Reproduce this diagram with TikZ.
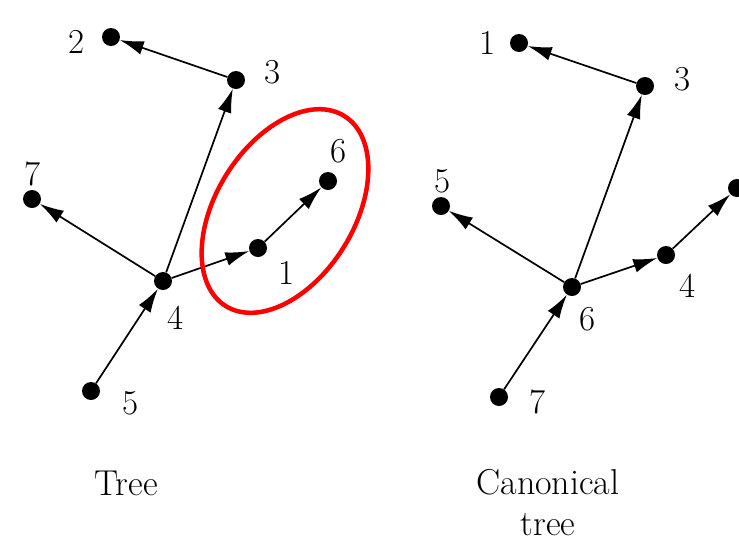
\documentclass[tikz,border=0pt]{standalone}
\usepackage{tikz}
\usetikzlibrary{arrows.meta, positioning}

\begin{document}
\begin{tikzpicture}[
  x=1pt, y=-1pt,
  dot/.style={circle, fill=black, inner sep=0pt, minimum size=18pt},
  num/.style={inner sep=0pt, font=\fontsize{35}{42}\selectfont},
  caption/.style={inner sep=0pt, align=center, font=\fontsize{36}{41}\selectfont},
  arrow/.style={-{Latex[length=24pt, width=14pt]}, line width=1.7pt},
  ring/.style={draw=red, line width=4.5pt}
]
\useasboundingbox (0,0) rectangle (739,539);

\node (t2) [dot] at (111,37) {};
\node (t3) [dot] at (236,80) {};
\node (t7) [dot] at (32,199) {};
\node (t4) [dot] at (163,281) {};
\node (t1) [dot] at (258,248) {};
\node (t6) [dot] at (328,181) {};
\node (t5) [dot] at (91,391) {};

\node (t2lab) [num] at (77,42) {2};
\node (t3lab) [num] at (273,72) {3};
\node (t7lab) [num] at (33,174) {7};
\node (t4lab) [num] at (176,318) {4};
\node (t1lab) [num] at (287,273) {1};
\node (t6lab) [num] at (339,151) {6};
\node (t5lab) [num] at (131,403) {5};

\draw [arrow] (t3) -- (t2);
\draw [arrow] (t4) -- (t3);
\draw [arrow] (t4) -- (t7);
\draw [arrow] (t4) -- (t1);
\draw [arrow] (t1) -- (t6);
\draw [arrow] (t5) -- (t4);

\draw [ring, rotate around={58:(285,211)}] (285,211) ellipse [x radius=112pt, y radius=69pt];

\node (c1) [dot] at (519,43) {};
\node (c3) [dot] at (645,86) {};
\node (c5) [dot] at (441,206) {};
\node (c6) [dot] at (572,287) {};
\node (c4) [dot] at (666,255) {};
\node (c2) [dot] at (737,188) {};
\node (c7) [dot] at (499,397) {};

\node (c1lab) [num] at (488,43) {1};
\node (c3lab) [num] at (683,79) {3};
\node (c5lab) [num] at (443,181) {5};
\node (c6lab) [num] at (588,319) {6};
\node (c4lab) [num] at (688,286) {4};
\node (c2lab) [num] at (749,160) {2};
\node (c7lab) [num] at (538,402) {7};

\draw [arrow] (c3) -- (c1);
\draw [arrow] (c6) -- (c3);
\draw [arrow] (c6) -- (c5);
\draw [arrow] (c6) -- (c4);
\draw [arrow] (c4) -- (c2);
\draw [arrow] (c7) -- (c6);

\node (treecap) [caption] at (126,483) {Tree};
\node (canoncap) [caption] at (548,503) {Canonical\\tree};

\end{tikzpicture}
\end{document}
